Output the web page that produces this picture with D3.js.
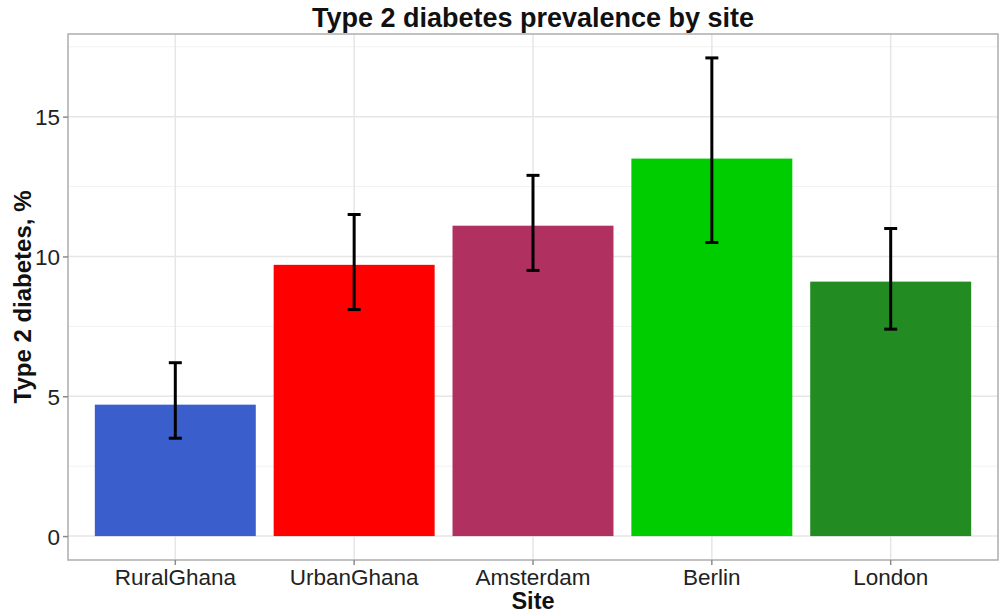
<!DOCTYPE html>
<html>
<head>
<meta charset="utf-8">
<script src="https://cdn.jsdelivr.net/npm/d3@7"></script>
<style>
  body { margin: 0; background: #fff; }
  text { font-family: "Liberation Sans", Arial, sans-serif; }
</style>
</head>
<body>
<div id="chart"></div>
<script>
// data
var sites = ['RuralGhana', 'UrbanGhana', 'Amsterdam', 'Berlin', 'London'];
var prevalence = [4.7, 9.7, 11.1, 13.5, 9.1];
var lower = [3.5, 8.1, 9.5, 10.5, 7.4];
var upper = [6.2, 11.5, 12.9, 17.1, 11.0];
var colors = ['#3A5FCD', '#FF0000', '#B03060', '#00CD00', '#228B22'];
var yTicks = [0, 5, 10, 15];
var yMinor = [2.5, 7.5, 12.5, 17.5];

var width = 1002;
var height = 613;
var panel = {left: 68, right: 998, top: 34, bottom: 560};

var svg = d3.select('#chart')
  .append('svg')
  .attr('width', width)
  .attr('height', height);

// ggplot-style 5% expansion
var yMax = d3.max(upper);
var pad = yMax * 0.05;
var y = d3.scaleLinear()
  .domain([-pad, yMax + pad])
  .range([panel.bottom, panel.top]);

var x = d3.scaleBand()
  .domain(sites)
  .range([panel.left, panel.right])
  .paddingInner(0.1)
  .paddingOuter(0.15);

var rows = sites.map(function (s, i) {
  return {site: s, value: prevalence[i], lo: lower[i], hi: upper[i], color: colors[i]};
});

// grid
var grid = svg.append('g');
grid.selectAll('.minor')
  .data(yMinor)
  .enter().append('line')
  .attr('x1', panel.left).attr('x2', panel.right)
  .attr('y1', function (d) { return y(d); })
  .attr('y2', function (d) { return y(d); })
  .attr('stroke', '#f2f2f2')
  .attr('stroke-width', 1);
grid.selectAll('.major')
  .data(yTicks)
  .enter().append('line')
  .attr('x1', panel.left).attr('x2', panel.right)
  .attr('y1', function (d) { return y(d); })
  .attr('y2', function (d) { return y(d); })
  .attr('stroke', '#e6e6e6')
  .attr('stroke-width', 1.5);
grid.selectAll('.vmajor')
  .data(sites)
  .enter().append('line')
  .attr('x1', function (d) { return x(d) + x.bandwidth() / 2; })
  .attr('x2', function (d) { return x(d) + x.bandwidth() / 2; })
  .attr('y1', panel.top).attr('y2', panel.bottom)
  .attr('stroke', '#e6e6e6')
  .attr('stroke-width', 1.5);

// bars
svg.selectAll('.bar')
  .data(rows)
  .enter().append('rect')
  .attr('class', 'bar')
  .attr('x', function (d) { return x(d.site); })
  .attr('width', x.bandwidth())
  .attr('y', function (d) { return y(d.value); })
  .attr('height', function (d) { return y(0) - y(d.value); })
  .attr('fill', function (d) { return d.color; });

// error bars
var capHalf = 6.5;
var err = svg.selectAll('.err')
  .data(rows)
  .enter().append('g')
  .attr('class', 'err')
  .attr('stroke', '#000')
  .attr('stroke-width', 3);
err.append('line')
  .attr('x1', function (d) { return x(d.site) + x.bandwidth() / 2; })
  .attr('x2', function (d) { return x(d.site) + x.bandwidth() / 2; })
  .attr('y1', function (d) { return y(d.lo); })
  .attr('y2', function (d) { return y(d.hi); });
err.append('line')
  .attr('x1', function (d) { return x(d.site) + x.bandwidth() / 2 - capHalf; })
  .attr('x2', function (d) { return x(d.site) + x.bandwidth() / 2 + capHalf; })
  .attr('y1', function (d) { return y(d.hi); })
  .attr('y2', function (d) { return y(d.hi); });
err.append('line')
  .attr('x1', function (d) { return x(d.site) + x.bandwidth() / 2 - capHalf; })
  .attr('x2', function (d) { return x(d.site) + x.bandwidth() / 2 + capHalf; })
  .attr('y1', function (d) { return y(d.lo); })
  .attr('y2', function (d) { return y(d.lo); });

// panel border
svg.append('rect')
  .attr('x', panel.left).attr('y', panel.top)
  .attr('width', panel.right - panel.left)
  .attr('height', panel.bottom - panel.top)
  .attr('fill', 'none')
  .attr('stroke', '#adadad')
  .attr('stroke-width', 1.5);

// axes
var yAxis = svg.append('g')
  .attr('transform', 'translate(' + panel.left + ',0)')
  .call(d3.axisLeft(y).tickValues(yTicks).tickSize(5).tickPadding(3));
var xAxis = svg.append('g')
  .attr('transform', 'translate(0,' + panel.bottom + ')')
  .call(d3.axisBottom(x).tickSize(5).tickPadding(4));
[yAxis, xAxis].forEach(function (a) {
  a.select('.domain').remove();
  a.selectAll('.tick line').attr('stroke', '#8c8c8c').attr('stroke-width', 1.5);
  a.selectAll('.tick text')
    .attr('fill', '#222')
    .style('font-size', '22.5px')
    .style('font-family', '"Liberation Sans", Arial, sans-serif');
});
yAxis.selectAll('.tick text').attr('dy', '0.36em');

// titles
svg.append('text')
  .attr('x', (panel.left + panel.right) / 2)
  .attr('y', 27)
  .attr('text-anchor', 'middle')
  .style('font-size', '27px')
  .style('font-weight', 'bold')
  .attr('fill', '#111')
  .text('Type 2 diabetes prevalence by site');

svg.append('text')
  .attr('x', (panel.left + panel.right) / 2)
  .attr('y', 609)
  .attr('text-anchor', 'middle')
  .style('font-size', '23.5px')
  .style('font-weight', 'bold')
  .attr('fill', '#111')
  .text('Site');

svg.append('text')
  .attr('transform', 'translate(31,' + (panel.top + panel.bottom) / 2 + ') rotate(-90)')
  .attr('text-anchor', 'middle')
  .style('font-size', '24px')
  .style('font-weight', 'bold')
  .attr('fill', '#111')
  .text('Type 2 diabetes, %');
</script>
</body>
</html>
